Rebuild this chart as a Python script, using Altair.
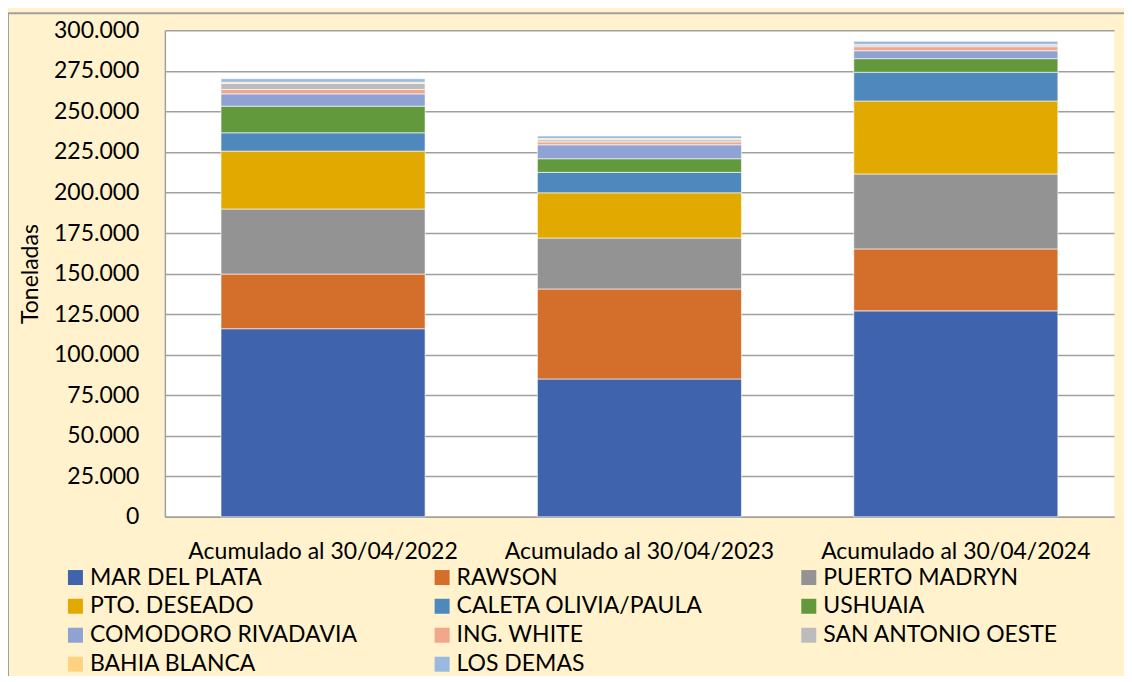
import altair as alt
import pandas as pd

periodos = ["Acumulado al 30/04/2022", "Acumulado al 30/04/2023", "Acumulado al 30/04/2024"]
puertos = ["MAR DEL PLATA", "RAWSON", "PUERTO MADRYN", "PTO. DESEADO", "CALETA OLIVIA/PAULA",
           "USHUAIA", "COMODORO RIVADAVIA", "ING. WHITE", "SAN ANTONIO OESTE", "BAHIA BLANCA", "LOS DEMAS"]
colores = ["#3F64AD", "#D46E2B", "#939393", "#E2AA00", "#4F88BC", "#63993D",
           "#8FA2D4", "#F1A78A", "#BCBCBC", "#FFD27F", "#99B9E0"]

mar_del_plata = [116000, 85000, 127000]
rawson = [33700, 55500, 38200]
puerto_madryn = [40100, 31400, 46200]
pto_deseado = [35700, 27900, 45000]
caleta_olivia = [11300, 12600, 17700]
ushuaia = [16400, 8400, 8400]
comodoro = [7600, 8600, 4900]
ing_white = [2700, 1800, 2500]
san_antonio = [3700, 1300, 1000]
bahia_blanca = [800, 800, 400]
los_demas = [2100, 1500, 1900]

series = [mar_del_plata, rawson, puerto_madryn, pto_deseado, caleta_olivia, ushuaia,
          comodoro, ing_white, san_antonio, bahia_blanca, los_demas]

rows = []
for i, (p, vals) in enumerate(zip(puertos, series)):
    for per, v in zip(periodos, vals):
        rows.append({"periodo": per, "puerto": p, "valor": v, "orden": i})
df = pd.DataFrame(rows)

W, H = 950, 487
FONT = "Lato"
FS = 23

border = alt.Chart(pd.DataFrame({"a": [0]})).mark_rect(
    fill="transparent", stroke="#A0A0A0", strokeWidth=2
).encode(
    x=alt.value(-157), x2=alt.value(1100), y=alt.value(-17), y2=alt.value(800)
)

bars = alt.Chart(df).mark_bar(stroke="white", strokeWidth=0.6).encode(
    x=alt.X("periodo:N", sort=periodos,
            scale=alt.Scale(paddingInner=0.355, paddingOuter=0.1775),
            axis=alt.Axis(title=None, labelAngle=0, labelFontSize=FS, labelFont=FONT,
                          labelColor="black", labelPadding=24, labelLimit=400, ticks=False,
                          domainColor="#A0A0A0", domainWidth=1.5, grid=False)),
    y=alt.Y("valor:Q", stack="zero",
            scale=alt.Scale(domain=[0, 300000], nice=False),
            axis=alt.Axis(title="Toneladas", titleFontSize=FS, titleFont=FONT,
                          titleFontWeight="normal", titleColor="black", titlePadding=11,
                          values=list(range(0, 300001, 25000)),
                          labelExpr="replace(format(datum.value, ','), regexp(',', 'g'), '.')",
                          labelFontSize=FS, labelFont=FONT, labelColor="black",
                          labelPadding=26, ticks=False, domainColor="#A0A0A0",
                          domainWidth=1.5, grid=True, gridColor="#A0A0A0", gridWidth=1.5)),
    color=alt.Color("puerto:N", sort=puertos,
                    scale=alt.Scale(domain=puertos, range=colores),
                    legend=alt.Legend(title=None, orient="none", legendX=-101, legendY=536,
                                      direction="horizontal",
                                      columns=3, gridAlign="all", columnPadding=73,
                                      symbolType="square", symbolSize=225, symbolStrokeWidth=0,
                                      labelFontSize=FS, labelFont=FONT, labelColor="black",
                                      labelOffset=3, rowPadding=5, padding=0,
                                      labelLimit=400)),
    order=alt.Order("orden:Q", sort="ascending"),
)

chart = alt.layer(border, bars).properties(
    width=W, height=H,
    autosize=alt.AutoSizeParams(type="none"),
    padding={"left": 157, "top": 22, "right": 10, "bottom": 159},
    background="#FFF2CC",
).configure_view(stroke=None, fill="white")

chart.save("out.html", embed_options={"renderer": "svg", "actions": False})
